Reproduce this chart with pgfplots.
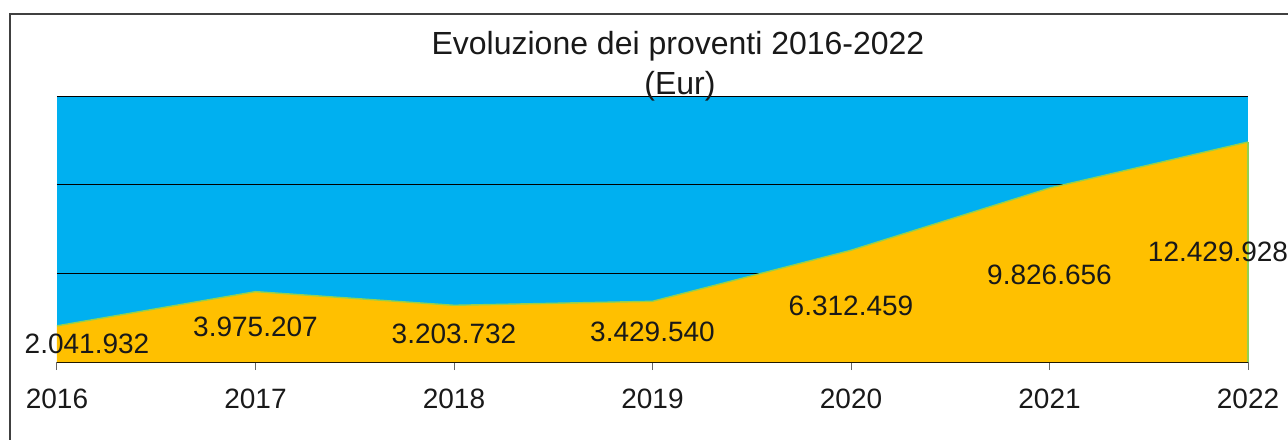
\documentclass[border=0pt]{standalone}
\usepackage{fontspec}
\setmainfont{Liberation Sans}
\usepackage{pgfplots}
\pgfplotsset{compat=1.18}
\usepackage{pgfplotstable}
\definecolor{bg}{RGB}{0,176,240}
\definecolor{ar}{RGB}{255,192,0}
\definecolor{ln}{RGB}{146,208,80}
\pgfplotstableread{
x v lab dx
0 2041932 2.041.932 15
1 3975207 3.975.207 0
2 3203732 3.203.732 0
3 3429540 3.429.540 0
4 6312459 6.312.459 0
5 9826656 9.826.656 0
6 12429928 12.429.928 -15
}\data
\begin{document}
\begin{tikzpicture}
\useasboundingbox (0,0) rectangle (644pt,219.5pt);
\draw[line width=0.6pt, black!75] (5pt,-5pt) -- (5pt,212.5pt) -- (700pt,212.5pt);
\begin{axis}[
 at={(28.5pt,38.5pt)}, anchor=south west,
 scale only axis, width=595.5pt, height=132.75pt,
 xmin=0, xmax=6, ymin=0, ymax=15000000,
 clip=false,
 scaled y ticks=false,
 axis background/.style={fill=bg},
 axis x line*=bottom, axis y line*=left,
 x axis line style={-, black, line width=0.6pt},
 y axis line style={draw=none},
 xtick={0,...,6}, xticklabels={2016,2017,2018,2019,2020,2021,2022},
 tick align=outside, major tick length=4pt,
 xtick style={draw=black!60, line width=0.5pt},
 ytick={5000000,10000000,15000000}, yticklabels={},
 ytick style={draw=none},
 ymajorgrids,
 grid style={black, line width=0.5pt},
 font=\fontsize{14}{16}\selectfont,
 xticklabel style={anchor=base, yshift=-19pt, text=black!90},
 /pgf/number format/assume math mode=true,
]
\addplot[fill=ar, draw=none] table[x=x,y=v]{\data} \closedcycle;
\addplot[ln, line width=0.7pt, mark=none] table[x=x,y=v]{\data};
\addplot[ln, line width=0.7pt, mark=none] coordinates {(6,12429928) (6,0)};
\addplot[draw=none, mark=none, nodes near coords, point meta=explicit symbolic,
  visualization depends on={\thisrow{dx} \as \dx},
  every node near coord/.append style={anchor=center, xshift=\dx pt, font=\fontsize{14}{16}\selectfont, text=black!90}]
  table[x=x, y expr=\thisrow{v}/2, meta=lab]{\data};
\end{axis}
\node[anchor=base, font=\fontsize{16}{20}\selectfont, text=black!90] at (339pt,192pt) {Evoluzione dei proventi 2016-2022};
\node[anchor=base, font=\fontsize{16}{20}\selectfont, text=black!90] at (340pt,172pt) {(Eur)};
\end{tikzpicture}
\end{document}
